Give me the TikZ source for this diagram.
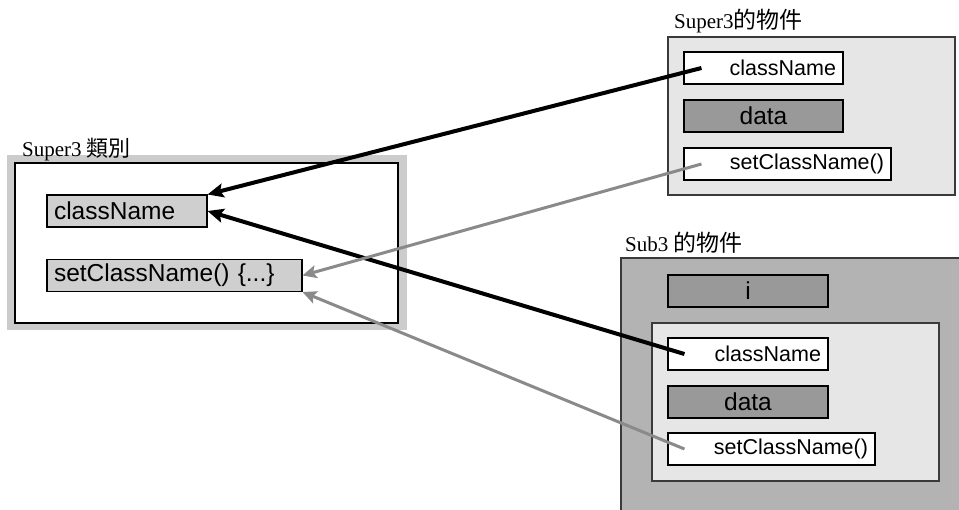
\documentclass[tikz,border=0pt]{standalone}
\usepackage{fontspec}
\usepackage{tikz}
\usepackage{xcolor}
\usetikzlibrary{arrows.meta,positioning,calc}
\setmainfont{Liberation Serif}
\newfontfamily\boxfont{Liberation Sans}
\newfontfamily\cjk{Noto Sans CJK TC}
\definecolor{Frame}{HTML}{CCCCCC}
\definecolor{FieldGray}{HTML}{CFCFCF}
\definecolor{SoftGray}{HTML}{E6E6E6}
\definecolor{MidGray}{HTML}{B3B3B3}
\definecolor{DarkGray}{HTML}{999999}
\definecolor{Edge}{HTML}{3A3A3A}
\definecolor{LinkGray}{HTML}{8A8A8A}

\begin{document}
\begin{tikzpicture}[
  x=1pt,y=-1pt,
  fld/.style={draw=black,line width=1.1pt,minimum height=32pt,inner xsep=7pt,inner ysep=0pt,font=\boxfont\fontsize{24.5}{28}\selectfont},
  ref/.style={fld,fill=white,align=right,font=\boxfont\fontsize{21.5}{25}\selectfont},
  objbox/.style={draw=Edge,line width=1.1pt,inner sep=0pt},
  lbl/.style={font=\fontsize{21}{24}\selectfont,inner sep=0pt,anchor=base west},
  blk/.style={-{Stealth[length=16pt,width=14pt,inset=3pt]},line width=4pt,draw=black},
  gry/.style={-{Stealth[length=14pt,width=13pt,inset=3pt]},line width=3pt,draw=LinkGray}
]
\clip (0,0) rectangle (959,509);

% Super3 class
\node[fill=Frame,minimum width=400pt,minimum height=175pt,inner sep=0pt] (clsbg) at (207,242.5) {};
\node[draw=black,line width=1.1pt,fill=white,minimum width=383pt,minimum height=160pt,inner sep=0pt] (cls) at (206.5,243) {};
\node[lbl] (clslbl) at (22,156) {Super3 {\cjk\fontsize{22}{24}\selectfont 類別}};
\node[fld,fill=FieldGray,text width=146pt,align=left] (clsname) at (127,211) {className};
\node[fld,fill=FieldGray,text width=241pt,align=left] (clsset) at (174.5,275.5) {setClassName() \{...\}};

% Super3 object
\node[objbox,fill=SoftGray,minimum width=287pt,minimum height=158pt] (sup) at (811.5,116) {};
\node[lbl] (suplbl) at (674,28) {Super3{\cjk\fontsize{23}{24}\selectfont 的物件}};
\node[ref,text width=145pt] (supname) at (763.5,68) {className};
\node[fld,fill=DarkGray,text width=145pt,align=center] (supdata) at (763.5,116) {data};
\node[ref,text width=193pt] (supset) at (787.5,164) {setClassName()};

% Sub3 object
\node[objbox,fill=MidGray,minimum width=354pt,minimum height=267pt] (sub) at (798,391.5) {};
\node[lbl] (sublbl) at (625,251) {Sub3 {\cjk\fontsize{23}{24}\selectfont 的物件}};
\node[fld,fill=DarkGray,text width=146pt,align=center] (subi) at (748,291) {i};
\node[objbox,fill=SoftGray,minimum width=287pt,minimum height=158pt] (subin) at (795.5,402) {};
\node[ref,text width=146pt] (subname) at (748,354) {className};
\node[fld,fill=DarkGray,text width=146pt,align=center] (subdata) at (748,402) {data};
\node[ref,text width=193pt] (subset) at (771.5,449) {setClassName()};

% links
\coordinate (s1) at ([xshift=18pt]supname.west);
\coordinate (s2) at ([xshift=17pt]subname.west);
\coordinate (s3) at ([xshift=18pt]supset.west);
\coordinate (s4) at ([xshift=17pt]subset.west);
\draw[blk] (s1) -- (clsname.north east);
\draw[blk] (s2) -- (clsname.east);
\draw[gry] (s3) -- (clsset.east);
\draw[gry] (s4) -- (clsset.south east);
\end{tikzpicture}
\end{document}
